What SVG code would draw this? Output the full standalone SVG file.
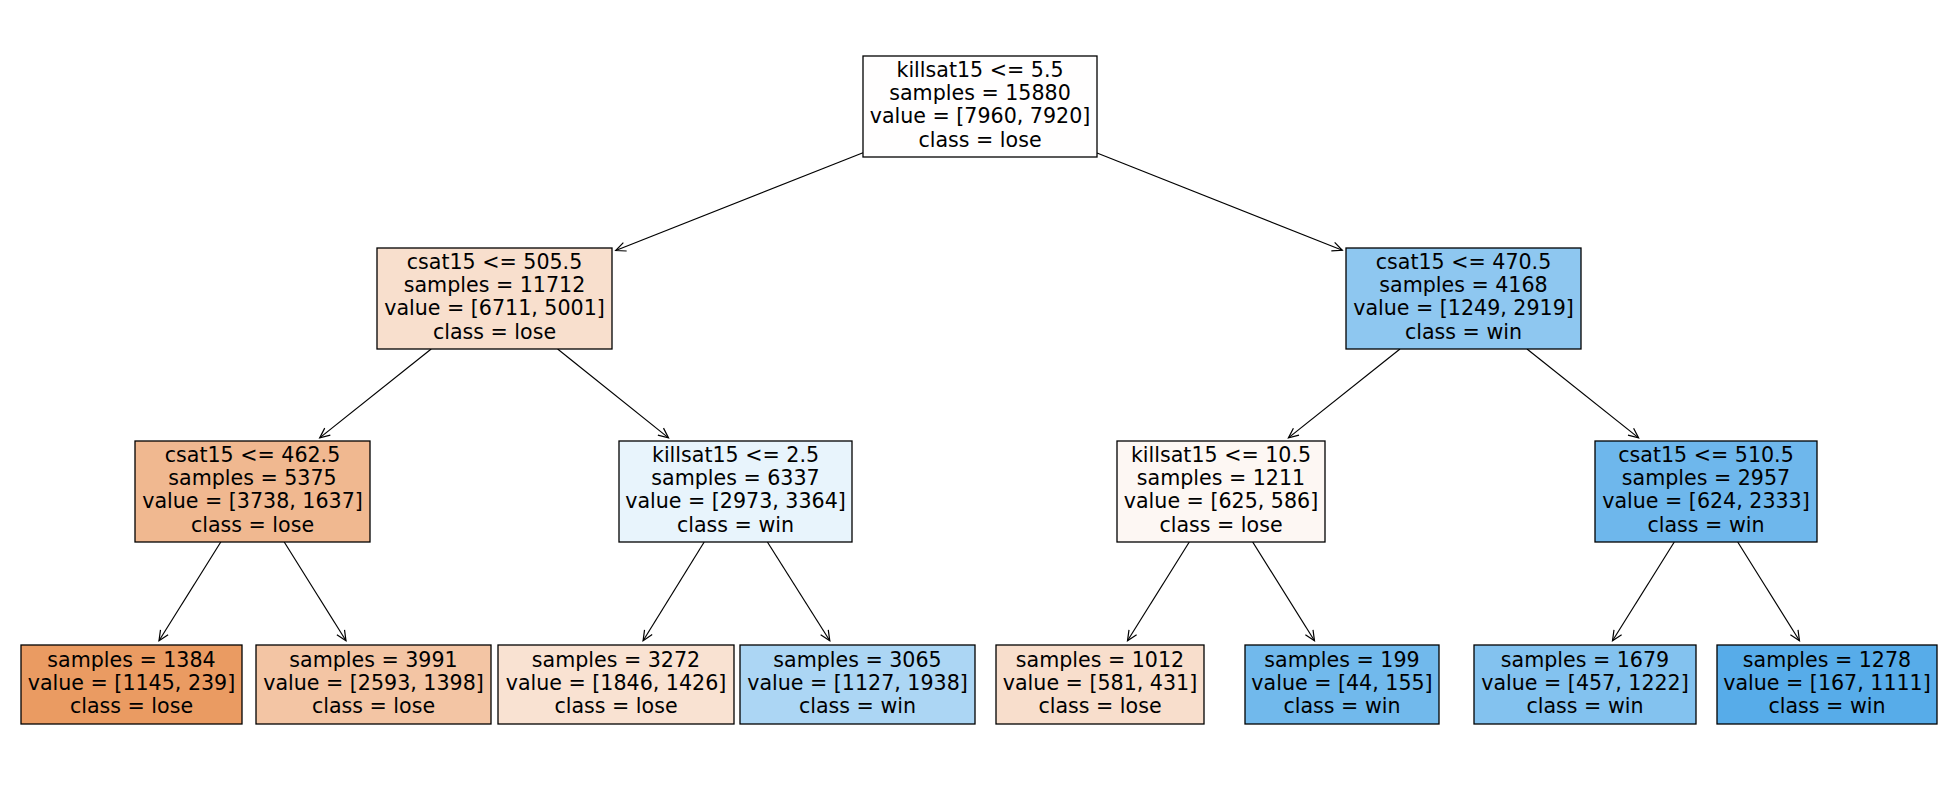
<svg xmlns="http://www.w3.org/2000/svg" width="1957" height="790" viewBox="0 0 1957 790">
<style>
.box{stroke:#000;stroke-width:1.3}
text{font-family:"DejaVu Sans","Liberation Sans",sans-serif;font-size:20.6px;fill:#000;text-anchor:middle}
.edge{stroke:#000;stroke-width:1.2;fill:none;marker-end:url(#arr)}
</style>
<defs>
<marker id="arr" markerWidth="14" markerHeight="12" refX="0" refY="0" viewBox="-12 -6 14 12" orient="auto" markerUnits="userSpaceOnUse" overflow="visible">
<path d="M-10,-4.5 L0,0 L-10,4.5" fill="none" stroke="#000" stroke-width="1.2"/>
</marker>
</defs>
<rect width="1957" height="790" fill="#fff"/>
<g id="connectors">
<line class="edge" x1="863" y1="152.8" x2="615.7" y2="250.5"/>
<line class="edge" x1="1097" y1="153" x2="1342.3" y2="250.3"/>
<line class="edge" x1="431.2" y1="349" x2="319.7" y2="437.9"/>
<line class="edge" x1="557.6" y1="349" x2="668.5" y2="437.9"/>
<line class="edge" x1="1400" y1="349" x2="1288.4" y2="437.9"/>
<line class="edge" x1="1527" y1="349" x2="1638.6" y2="437.9"/>
<line class="edge" x1="220.8" y1="542" x2="159" y2="640.8"/>
<line class="edge" x1="284.2" y1="542" x2="346" y2="640.8"/>
<line class="edge" x1="704.2" y1="542" x2="643.1" y2="640.7"/>
<line class="edge" x1="767.4" y1="542" x2="829.8" y2="640.8"/>
<line class="edge" x1="1189.3" y1="542" x2="1127.5" y2="640.8"/>
<line class="edge" x1="1252.7" y1="542" x2="1314.5" y2="640.8"/>
<line class="edge" x1="1674.3" y1="542" x2="1612.5" y2="640.8"/>
<line class="edge" x1="1737.7" y1="542" x2="1799.5" y2="640.8"/>
</g>
<g id="node0">
<rect class="box" x="863" y="56" width="234" height="101" fill="#fffefe"/>
<text x="980" y="76.5">killsat15 &lt;= 5.5</text>
<text x="980" y="100">samples = 15880</text>
<text x="980" y="123">value = [7960, 7920]</text>
<text x="980" y="146.5">class = lose</text>
</g>
<g id="node1">
<rect class="box" x="377" y="248" width="235" height="101" fill="#f8dfcd"/>
<text x="494.5" y="268.5">csat15 &lt;= 505.5</text>
<text x="494.5" y="292">samples = 11712</text>
<text x="494.5" y="315">value = [6711, 5001]</text>
<text x="494.5" y="338.5">class = lose</text>
</g>
<g id="node2">
<rect class="box" x="1346" y="248" width="235" height="101" fill="#8ec7f0"/>
<text x="1463.5" y="268.5">csat15 &lt;= 470.5</text>
<text x="1463.5" y="292">samples = 4168</text>
<text x="1463.5" y="315">value = [1249, 2919]</text>
<text x="1463.5" y="338.5">class = win</text>
</g>
<g id="node3">
<rect class="box" x="135" y="441" width="235" height="101" fill="#f0b890"/>
<text x="252.5" y="461.5">csat15 &lt;= 462.5</text>
<text x="252.5" y="485">samples = 5375</text>
<text x="252.5" y="508">value = [3738, 1637]</text>
<text x="252.5" y="531.5">class = lose</text>
</g>
<g id="node4">
<rect class="box" x="619" y="441" width="233" height="101" fill="#e8f4fc"/>
<text x="735.5" y="461.5">killsat15 &lt;= 2.5</text>
<text x="735.5" y="485">samples = 6337</text>
<text x="735.5" y="508">value = [2973, 3364]</text>
<text x="735.5" y="531.5">class = win</text>
</g>
<g id="node5">
<rect class="box" x="1117" y="441" width="208" height="101" fill="#fdf7f3"/>
<text x="1221" y="461.5">killsat15 &lt;= 10.5</text>
<text x="1221" y="485">samples = 1211</text>
<text x="1221" y="508">value = [625, 586]</text>
<text x="1221" y="531.5">class = lose</text>
</g>
<g id="node6">
<rect class="box" x="1595" y="441" width="222" height="101" fill="#6eb7ec"/>
<text x="1706" y="461.5">csat15 &lt;= 510.5</text>
<text x="1706" y="485">samples = 2957</text>
<text x="1706" y="508">value = [624, 2333]</text>
<text x="1706" y="531.5">class = win</text>
</g>
<g id="leaf1">
<rect class="box" x="21" y="645" width="221" height="79" fill="#ea9b62"/>
<text x="131.5" y="667">samples = 1384</text>
<text x="131.5" y="690">value = [1145, 239]</text>
<text x="131.5" y="712.5">class = lose</text>
</g>
<g id="leaf2">
<rect class="box" x="256" y="645" width="235" height="79" fill="#f3c5a4"/>
<text x="373.5" y="667">samples = 3991</text>
<text x="373.5" y="690">value = [2593, 1398]</text>
<text x="373.5" y="712.5">class = lose</text>
</g>
<g id="leaf3">
<rect class="box" x="498" y="645" width="236" height="79" fill="#f9e2d2"/>
<text x="616" y="667">samples = 3272</text>
<text x="616" y="690">value = [1846, 1426]</text>
<text x="616" y="712.5">class = lose</text>
</g>
<g id="leaf4">
<rect class="box" x="740" y="645" width="235" height="79" fill="#acd6f4"/>
<text x="857.5" y="667">samples = 3065</text>
<text x="857.5" y="690">value = [1127, 1938]</text>
<text x="857.5" y="712.5">class = win</text>
</g>
<g id="leaf5">
<rect class="box" x="996" y="645" width="208" height="79" fill="#f8decc"/>
<text x="1100" y="667">samples = 1012</text>
<text x="1100" y="690">value = [581, 431]</text>
<text x="1100" y="712.5">class = lose</text>
</g>
<g id="leaf6">
<rect class="box" x="1245" y="645" width="194" height="79" fill="#71b9ec"/>
<text x="1342" y="667">samples = 199</text>
<text x="1342" y="690">value = [44, 155]</text>
<text x="1342" y="712.5">class = win</text>
</g>
<g id="leaf7">
<rect class="box" x="1474" y="645" width="222" height="79" fill="#83c2ef"/>
<text x="1585" y="667">samples = 1679</text>
<text x="1585" y="690">value = [457, 1222]</text>
<text x="1585" y="712.5">class = win</text>
</g>
<g id="leaf8">
<rect class="box" x="1717" y="645" width="220" height="79" fill="#57ace9"/>
<text x="1827" y="667">samples = 1278</text>
<text x="1827" y="690">value = [167, 1111]</text>
<text x="1827" y="712.5">class = win</text>
</g>
</svg>
